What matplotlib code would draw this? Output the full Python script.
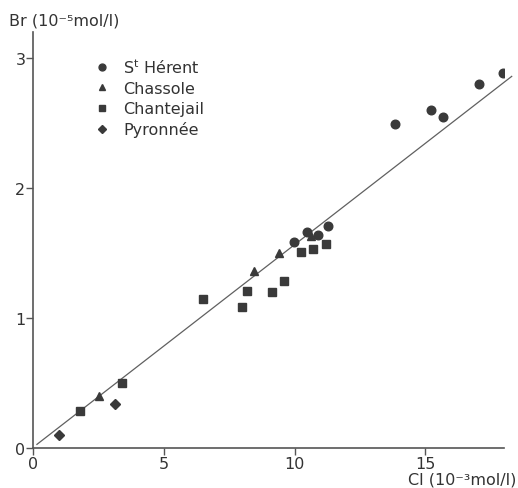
import matplotlib.pyplot as plt
import numpy as np

# values (Cl in 1e-3 mol/l, Br in 1e-5 mol/l)
sth_cl = [17.97, 17.04, 15.21, 15.68, 13.84, 11.28, 9.98, 10.47, 10.90]
sth_br = [2.885, 2.80, 2.60, 2.55, 2.49, 1.71, 1.59, 1.66, 1.64]
chas_cl = [2.54, 8.43, 9.41, 10.63]
chas_br = [0.405, 1.36, 1.50, 1.63]
chan_cl = [1.80, 3.39, 6.51, 7.98, 8.17, 9.13, 9.60, 10.25, 10.72, 11.20]
chan_br = [0.287, 0.505, 1.146, 1.09, 1.21, 1.20, 1.29, 1.51, 1.53, 1.57]
pyr_cl = [1.01, 3.12]
pyr_br = [0.10, 0.34]
fit_cl = [0.15, 18.3]
fit_br = [0.03, 2.86]

xticks = [0, 5, 10, 15]
yticks = [0, 1, 2, 3]

ink = '#3a3a3a'
plt.rcParams['font.family'] = ['DejaVu Sans']

fig = plt.figure(figsize=(5.18, 4.89), dpi=100)
ax = fig.add_axes([0.0637, 0.0812, 0.909, 0.851])

ax.plot(fit_cl, fit_br, color='#606060', lw=0.9, clip_on=False, zorder=1)
ax.plot(sth_cl, sth_br, 'o', color=ink, ms=6.2, ls='none', label='S$^\\mathregular{t}$ Hérent', zorder=2)
ax.plot(chas_cl, chas_br, '^', color=ink, ms=6.2, ls='none', label='Chassole', zorder=2)
ax.plot(chan_cl, chan_br, 's', color=ink, ms=5.6, ls='none', label='Chantejail', zorder=2)
ax.plot(pyr_cl, pyr_br, 'D', color=ink, ms=5.0, ls='none', label='Pyronnée', zorder=2)

ax.set_xlim(0, 18.0)
ax.set_ylim(0, 3.2)
ax.set_xticks(xticks)
ax.set_yticks(yticks)
for s in ['top', 'right']:
    ax.spines[s].set_visible(False)
for s in ['left', 'bottom']:
    ax.spines[s].set_color('#555555')
    ax.spines[s].set_linewidth(1.2)
ax.tick_params(colors='#555555', labelcolor='#333333', labelsize=11.5, length=5, width=1.0, pad=0.5)

fig.text(0.018, 0.942, 'Br (10⁻⁵mol/l)', fontsize=11.5, color='#333333', va='bottom', ha='left')
fig.text(0.997, 0.003, 'Cl (10⁻³mol/l)', fontsize=11.5, color='#333333', va='bottom', ha='right')

leg = ax.legend(loc='upper left', bbox_to_anchor=(0.12, 0.955), frameon=False, fontsize=11.5,
                handlelength=0.8, handletextpad=0.9, labelspacing=0.32, markerscale=0.8,
                borderaxespad=0)
for t in leg.get_texts():
    t.set_color('#333333')

fig.savefig('out.png', dpi=100)
